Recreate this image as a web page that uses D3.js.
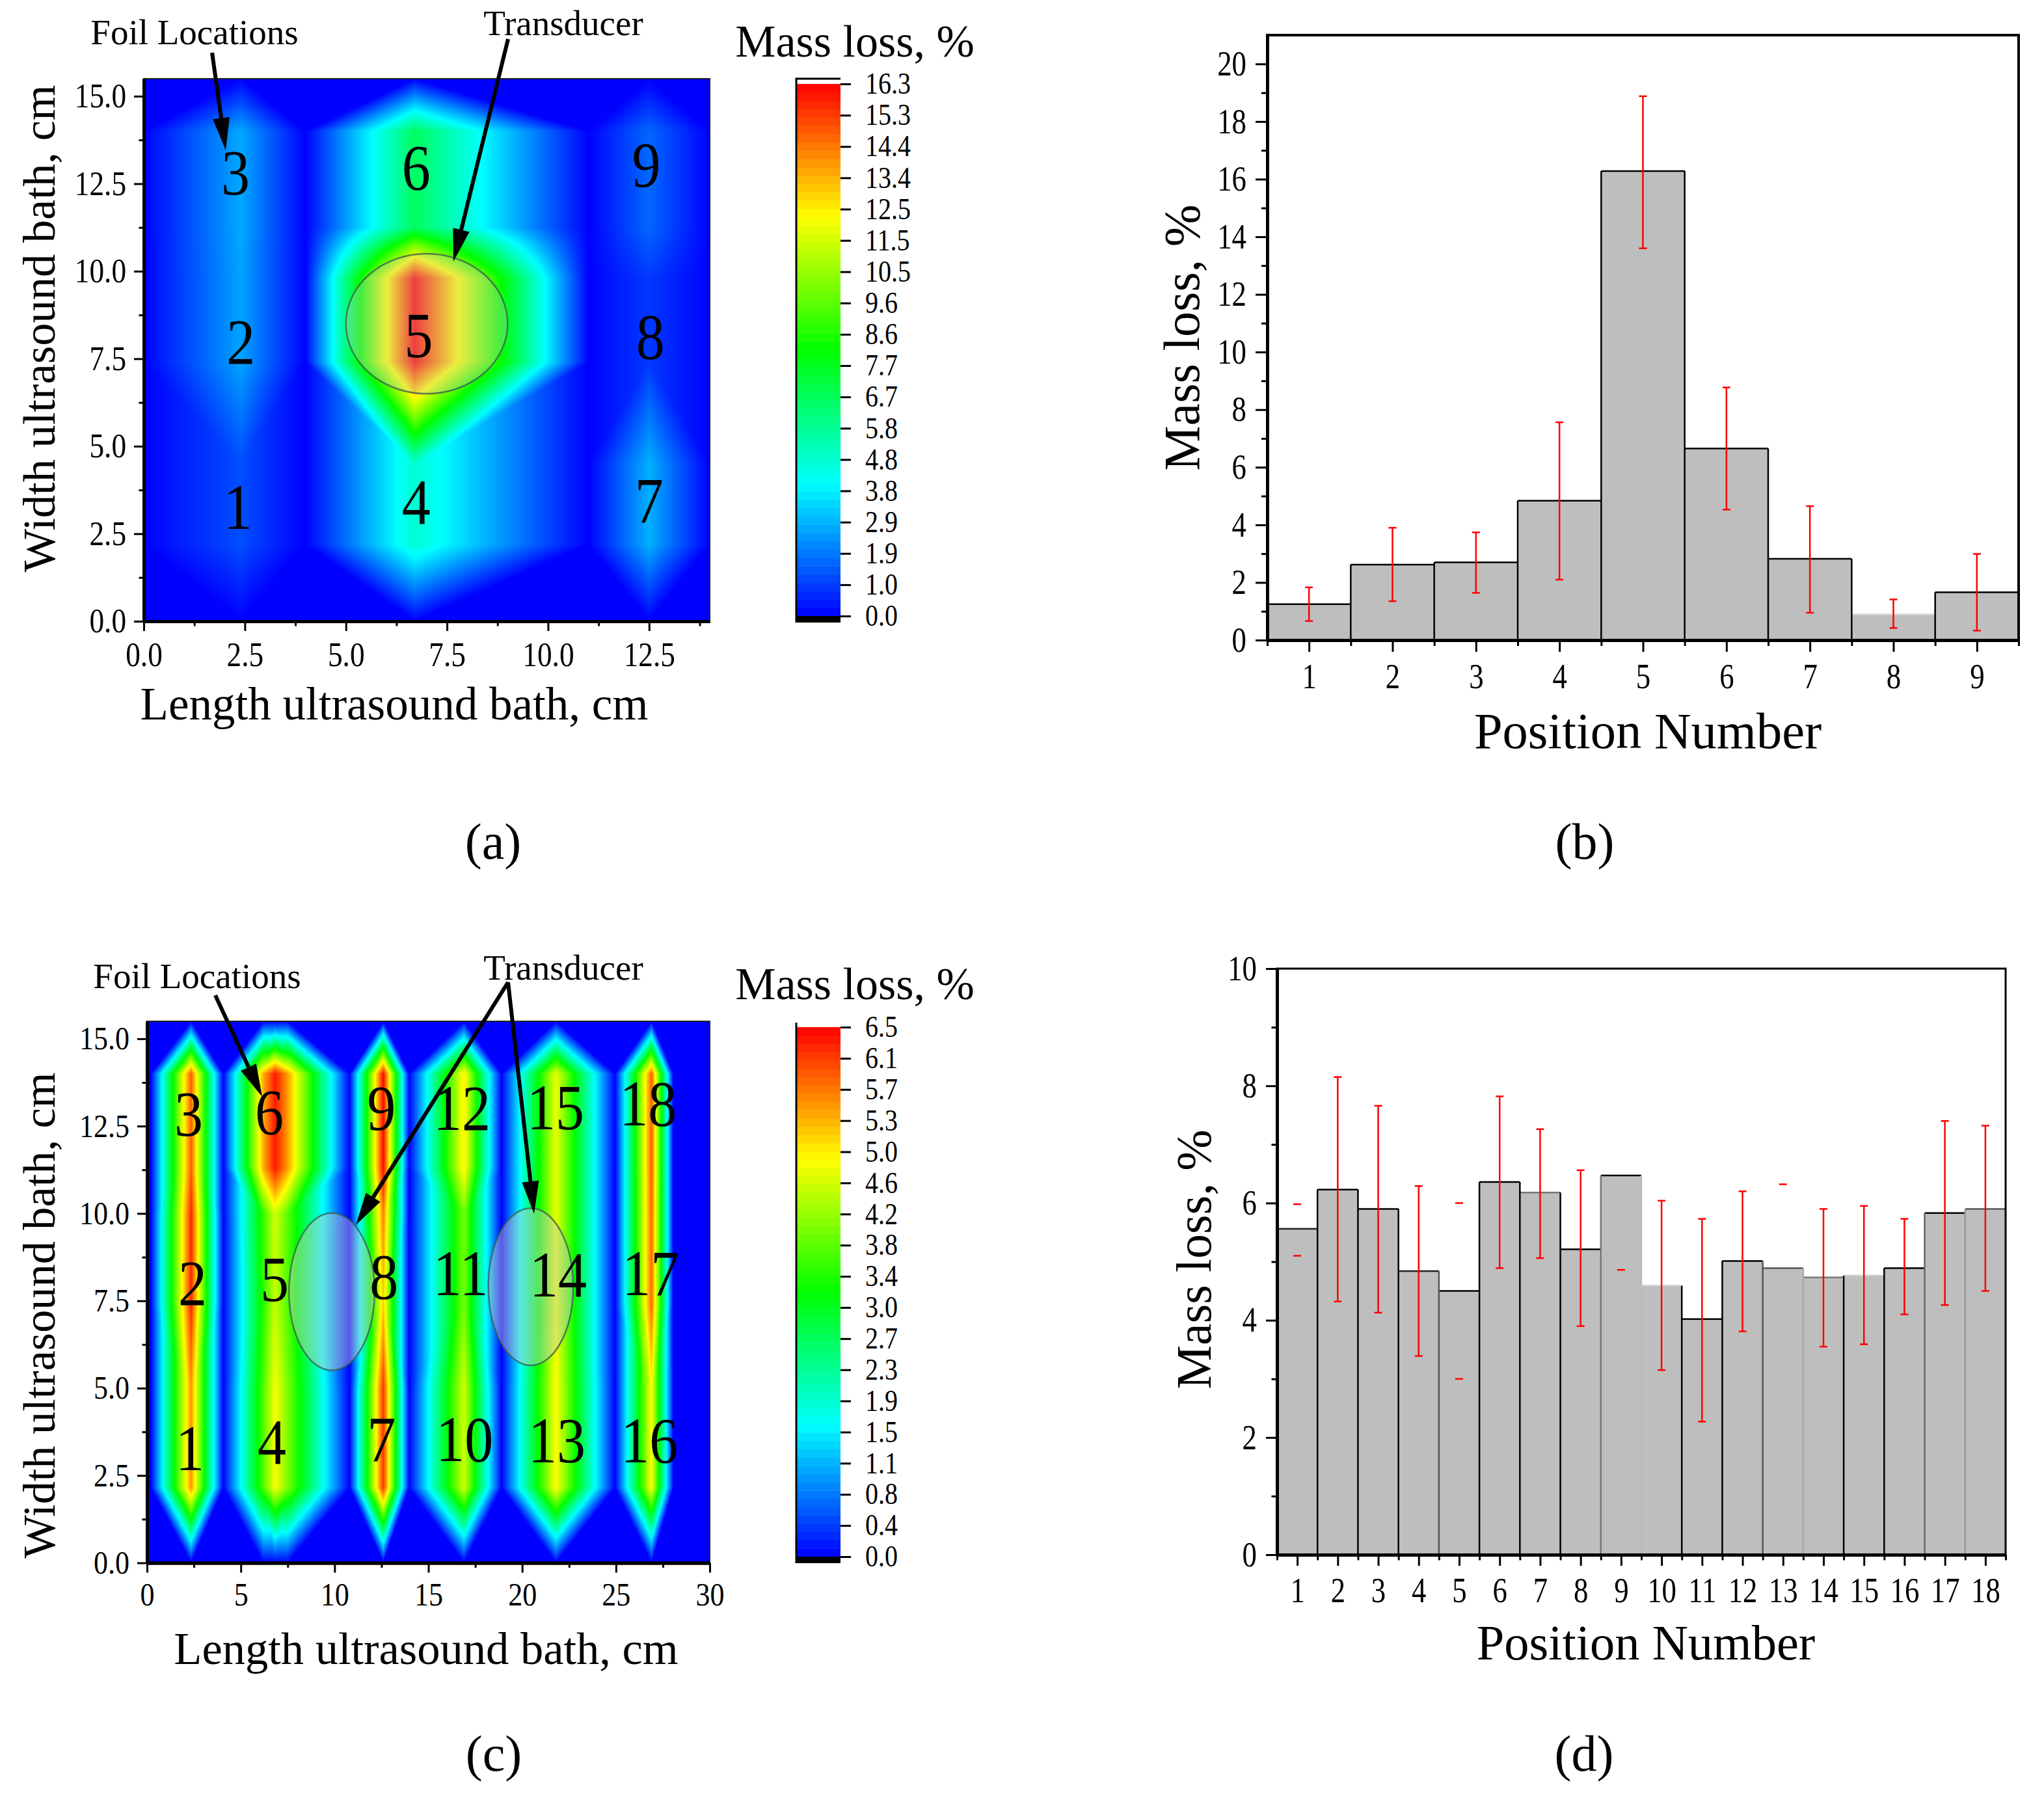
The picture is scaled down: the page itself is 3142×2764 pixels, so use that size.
<!DOCTYPE html>
<html>
<head>
<meta charset="utf-8">
<style>
  html, body { margin: 0; padding: 0; background: #fff; }
  svg { display: block; }
  text { font-family: "Liberation Serif", serif; fill: #000; }
</style>
<script src="https://cdn.jsdelivr.net/npm/d3@7"></script>
</head>
<body>
<svg id="fig" width="3142" height="2764"></svg>
<script>
// ---- panel (a), 9 foils: mass loss on a grid of the bath, cm
const aGridX = [0, 2.4, 4, 6.7, 11, 12.5, 14];
const aGridY = [0, 2.2, 4.5, 7.4, 9.8, 11.25, 14, 15.5];
const aCol1 = [0, 1.25, 1.25, 2.62, 2.62, 2.7, 2.7, 0];
const aCol2 = [0, 4.84, 4.84, 16.3, 16.3, 6.65, 6.65, 0];
const aCol3 = [0, 2.82, 2.82, 0.9, 0.9, 1.66, 1.66, 0];
const aColZero = [0, 0, 0, 0, 0, 0, 0, 0];
const aGridColumns = [aColZero, aCol1, aColZero, aCol2, aColZero, aCol3, aColZero];
const aFoilLabels = ['1', '2', '3', '4', '5', '6', '7', '8', '9'];
const aFoilX = [2.33, 2.4, 2.27, 6.74, 6.8, 6.74, 12.5, 12.53, 12.43];
const aFoilY = [3.25, 7.97, 12.8, 3.4, 8.16, 12.96, 3.44, 8.12, 13.03];
const aLegendTicks = ['0.0', '1.0', '1.9', '2.9', '3.8', '4.8', '5.8', '6.7', '7.7', '8.6', '9.6', '10.5', '11.5', '12.5', '13.4', '14.4', '15.3', '16.3'];

// ---- panel (b)
const bPositions = [1, 2, 3, 4, 5, 6, 7, 8, 9];
const bMassLoss = [1.25, 2.62, 2.7, 4.84, 16.28, 6.65, 2.82, 0.9, 1.66];
const bErrHigh = [1.83, 3.9, 3.74, 7.56, 18.88, 8.77, 4.65, 1.41, 2.99];
const bErrLow = [0.66, 1.35, 1.64, 2.1, 13.6, 4.53, 0.95, 0.42, 0.33];
const bTopEdges = ['#000', '#000', '#000', '#000', '#000', '#000', '#000', '#ddd', '#000'];
const bLeftEdges = ['#000', '#000', '#000', '#000', '#000', '#000', '#000', '#000', '#000'];

// ---- panel (c), 18 foils
const cGridX = [0, 0.2, 2.35, 4.07, 6.2, 6.83, 7.5, 10.8, 12.6, 13.97, 16.9, 18.9, 21.8, 24.95, 26.9, 28.06, 30];
const cGridY = [0, 2.15, 5, 7.4, 10, 11.3, 14, 15.5];
const cColZero = [0, 0, 0, 0, 0, 0, 0, 0];
const cCol1 = [0, 5.55, 5.55, 6.25, 6.25, 5.9, 5.9, 0];
const cCol2a = [0, 3.74, 3.74, 3.5, 3.6, 5.4, 5.4, 0];
const cCol2 = [0, 4.85, 4.85, 4.5, 4.6, 6.35, 6.35, 0];
const cCol2b = [0, 4.03, 4.03, 3.75, 3.8, 5.5, 5.5, 0];
const cCol3 = [0, 6.18, 6.18, 5.2, 5.7, 6.45, 6.45, 0];
const cCol4 = [0, 4.6, 4.6, 4.0, 4.0, 5.0, 5.0, 0];
const cCol5 = [0, 4.9, 4.9, 4.75, 4.75, 4.75, 4.75, 0];
const cCol6 = [0, 4.9, 4.9, 5.85, 5.85, 5.9, 5.9, 0];
const cGridColumns = [cColZero, cColZero, cCol1, cColZero, cCol2a, cCol2, cCol2b, cColZero, cCol3, cColZero, cCol4, cColZero, cCol5, cColZero, cCol6, cColZero, cColZero];
const cFoilLabels = ['1', '2', '3', '4', '5', '6', '7', '8', '9', '10', '11', '12', '13', '14', '15', '16', '17', '18'];
const cFoilX = [2.29, 2.43, 2.22, 6.66, 6.8, 6.52, 12.49, 12.63, 12.49, 16.93, 16.72, 16.79, 21.85, 21.92, 21.78, 26.78, 26.85, 26.71];
const cFoilY = [3.26, 8.0, 12.83, 3.45, 8.1, 12.9, 3.53, 8.19, 13.0, 3.53, 8.27, 13.0, 3.49, 8.23, 13.03, 3.49, 8.27, 13.13];
const cLegendTicks = ['0.0', '0.4', '0.8', '1.1', '1.5', '1.9', '2.3', '2.7', '3.0', '3.4', '3.8', '4.2', '4.6', '5.0', '5.3', '5.7', '6.1', '6.5'];

// ---- panel (d)
const dPositions = d3.range(1, 19);
const dMassLoss = [5.56, 6.23, 5.9, 4.84, 4.5, 6.36, 6.18, 5.21, 6.47, 4.59, 4.02, 5.01, 4.89, 4.73, 4.76, 4.89, 5.83, 5.9];
const dErrHigh = [5.98, 8.15, 7.66, 6.29, 6.0, 7.82, 7.26, 6.56, null, 6.04, 5.73, 6.2, 6.32, 5.9, 5.95, 5.73, 7.4, 7.32];
const dErrLow = [5.1, 4.32, 4.13, 3.39, 3.0, 4.89, 5.06, 3.9, 4.86, 3.15, 2.27, 3.81, null, 3.55, 3.59, 4.1, 4.26, 4.5];
// in the picture the stems of these positions did not survive, only the caps
const dCapsOnly = [1, 5, 9, 13];
const dTopEdges = ['#222', '#000', '#000', '#222', '#000', '#000', '#777', '#000', '#000', '#ccc', '#000', '#000', '#555', '#777', '#ccc', '#000', '#000', '#555'];
const dLeftEdges = ['#000', '#000', '#000', '#000', '#555', '#000', '#000', '#000', '#777', '#bbb', '#000', '#000', '#555', '#aaa', '#000', '#000', '#666', '#999'];

const rainbow = ['#0000ff', '#00ffff', '#00ff00', '#ffff00', '#ff0000'];

const svg = d3.select('#fig');
svg.append('rect').attr('width', 3142).attr('height', 2764).attr('fill', '#fff');

function rainbowScale(maxValue) {
    return d3.scaleLinear()
        .domain(d3.range(5).map(i => maxValue * i / 4))
        .range(rainbow)
        .clamp(true);
}

// the reference type is tall and narrow, squeeze the glyphs sideways
function condense(sel, fontSize, k) {
    sel.style('font-size', fontSize + 'px')
        .style('font-family', '"Liberation Serif", serif')
        .each(function () {
            const len = this.getComputedTextLength();
            d3.select(this).attr('textLength', len * k).attr('lengthAdjust', 'spacingAndGlyphs');
        });
}

// piecewise linear surface, each grid cell is split along its flatter diagonal.
// rows listed in smoothRows are blended bilinear, that fits their contours better
function surfaceAt(gridX, gridY, columns, smoothRows, vx, vy) {
    const i = Math.min(Math.max(d3.bisectRight(gridX, vx) - 1, 0), gridX.length - 2);
    const j = Math.min(Math.max(d3.bisectRight(gridY, vy) - 1, 0), gridY.length - 2);
    const u = (vx - gridX[i]) / (gridX[i + 1] - gridX[i]);
    const w = (vy - gridY[j]) / (gridY[j + 1] - gridY[j]);
    const v00 = columns[i][j], v10 = columns[i + 1][j], v01 = columns[i][j + 1], v11 = columns[i + 1][j + 1];
    if (smoothRows.includes(j)) {
        return (1 - w) * ((1 - u) * v00 + u * v10) + w * ((1 - u) * v01 + u * v11);
    }
    if (Math.abs(v00 - v11) <= Math.abs(v10 - v01)) {
        if (u >= w) return v00 + u * (v10 - v00) + w * (v11 - v10);
        return v00 + w * (v01 - v00) + u * (v11 - v01);
    }
    if (u + w <= 1) return v00 + u * (v10 - v00) + w * (v01 - v00);
    return v11 + (1 - u) * (v01 - v11) + (1 - w) * (v10 - v11);
}

function drawSurface(g, xScale, yScale, o, color) {
    const [x0, x1] = xScale.range();
    const [y1, y0] = yScale.range();
    const w = Math.round(x1 - x0), h = Math.round(y1 - y0);
    const canvas = document.createElement('canvas');
    canvas.width = w;
    canvas.height = h;
    const ctx = canvas.getContext('2d');
    const img = ctx.createImageData(w, h);
    for (let py = 0; py < h; py++) {
        const vy = yScale.invert(y0 + py + 0.5);
        for (let px = 0; px < w; px++) {
            const vx = xScale.invert(x0 + px + 0.5);
            const c = d3.rgb(color(surfaceAt(o.gridX, o.gridY, o.columns, o.smoothRows, vx, vy)));
            const k = (py * w + px) * 4;
            img.data[k] = c.r;
            img.data[k + 1] = c.g;
            img.data[k + 2] = c.b;
            img.data[k + 3] = 255;
        }
    }
    ctx.putImageData(img, 0, 0);
    g.append('image')
        .attr('x', x0).attr('y', y0)
        .attr('width', w).attr('height', h)
        .attr('href', canvas.toDataURL());
}

function styleAxis(sel, width) {
    sel.selectAll('path.domain').attr('stroke', '#000').attr('stroke-width', width);
    sel.selectAll('.tick line').attr('stroke', '#000').attr('stroke-width', 3);
}

function drawAxes(g, x, y, o) {
    const bottom = y.range()[0], left = x.range()[0];
    const xAxis = g.append('g').attr('transform', `translate(0,${bottom})`)
        .call(d3.axisBottom(x).tickValues(o.xMajor).tickSize(o.tick).tickSizeOuter(0).tickFormat(o.xFormat));
    g.append('g').attr('transform', `translate(0,${bottom})`)
        .call(d3.axisBottom(x).tickValues(o.xMinor).tickSize(o.tick / 2).tickSizeOuter(0).tickFormat(''))
        .call(styleAxis, 5);
    styleAxis(xAxis, 5);
    xAxis.selectAll('text')
        .attr('y', o.xTickBase - bottom).attr('dy', 0)
        .call(condense, o.tickFont, o.tickSqueeze);

    const yAxis = g.append('g').attr('transform', `translate(${left},0)`)
        .call(d3.axisLeft(y).tickValues(o.yMajor).tickSize(o.tick).tickSizeOuter(0).tickFormat(o.yFormat));
    g.append('g').attr('transform', `translate(${left},0)`)
        .call(d3.axisLeft(y).tickValues(o.yMinor).tickSize(o.tick / 2).tickSizeOuter(0).tickFormat(''))
        .call(styleAxis, 5);
    styleAxis(yAxis, 5);
    yAxis.selectAll('text')
        .attr('x', -(o.tick + o.yTickGap))
        .call(condense, o.tickFont, o.tickSqueeze);

    g.append('text')
        .attr('x', o.xTitle[0]).attr('y', o.xTitle[1])
        .attr('text-anchor', 'middle')
        .style('font-size', o.titleFont + 'px')
        .text(o.xLabel);
    g.append('text')
        .attr('transform', `translate(${o.yTitle[0]},${o.yTitle[1]}) rotate(-90)`)
        .attr('text-anchor', 'middle')
        .style('font-size', o.yTitleFont + 'px')
        .text(o.yLabel);
}

function drawArrow(g, tail, tip) {
    const angle = Math.atan2(tip[1] - tail[1], tip[0] - tail[0]);
    const headLen = 50, headHalf = 13;
    const nx = -Math.sin(angle), ny = Math.cos(angle);
    const bx = tip[0] - Math.cos(angle) * headLen, by = tip[1] - Math.sin(angle) * headLen;
    g.append('line')
        .attr('x1', tail[0]).attr('y1', tail[1]).attr('x2', bx).attr('y2', by)
        .attr('stroke', '#000').attr('stroke-width', 6);
    g.append('polygon')
        .attr('points', [tip, [bx + nx * headHalf, by + ny * headHalf], [bx - nx * headHalf, by - ny * headHalf]].join(' '))
        .attr('fill', '#000');
}

function drawLegend(g, ticks, maxValue, o) {
    const color = rainbowScale(maxValue);
    const legendLeft = 1224, legendRight = 1292;
    const yTop = o.legendTickTop, yBottom = o.legendTickBottom;
    const legendY = d3.scalePoint().domain(ticks).range([yBottom, yTop]);
    const shades = d3.range(64);
    const shadeH = (yBottom - yTop) / shades.length;
    g.selectAll('rect.shade').data(shades).join('rect')
        .attr('class', 'shade')
        .attr('x', legendLeft).attr('width', legendRight - legendLeft)
        .attr('y', d => yBottom - (d + 1) * shadeH)
        .attr('height', shadeH + 0.5)
        .attr('fill', d => color((d + 0.5) / shades.length * maxValue));
    g.append('rect')
        .attr('x', legendLeft).attr('width', legendRight - legendLeft)
        .attr('y', yBottom).attr('height', 10).attr('fill', '#000');
    const edge = o.legendTopLine
        ? `M${legendRight},${o.legendTop}H${legendLeft}V${yBottom + 10}`
        : `M${legendLeft},${o.legendTop}V${yBottom + 10}`;
    g.append('path')
        .attr('d', edge)
        .attr('fill', 'none').attr('stroke', '#000').attr('stroke-width', 3);
    const axis = g.append('g').attr('transform', `translate(${legendRight},0)`)
        .call(d3.axisRight(legendY).tickSize(16).tickSizeOuter(0).tickPadding(22));
    axis.select('path.domain').remove();
    axis.selectAll('.tick line').attr('stroke', '#000').attr('stroke-width', 3);
    axis.selectAll('text').call(condense, 46, 0.87);
}

function heatPanel(o) {
    const g = svg.append('g');
    const x = d3.scaleLinear().domain(o.xDomain).range([o.left, o.right]);
    const y = d3.scaleLinear().domain([0, 15.5]).range([o.bottom, o.top]);
    drawSurface(g, x, y, o, rainbowScale(o.maxValue));
    g.append('rect')
        .attr('x', o.left).attr('y', o.top)
        .attr('width', o.right - o.left).attr('height', o.bottom - o.top)
        .attr('fill', 'none').attr('stroke', '#222').attr('stroke-width', 2);

    g.selectAll('ellipse').data(o.ellipses).join('ellipse')
        .attr('cx', d => x(d.cx)).attr('cy', d => y(d.cy))
        .attr('rx', d => x(d.cx + d.rx) - x(d.cx)).attr('ry', d => y(d.cy) - y(d.cy + d.ry))
        .attr('fill', '#c8c8c8').attr('fill-opacity', o.ellipseOpacity)
        .attr('stroke', '#3f5f4f').attr('stroke-opacity', 0.8).attr('stroke-width', 2.5);

    g.selectAll('text.foil').data(o.foilLabels).join('text')
        .attr('class', 'foil')
        .attr('x', (d, i) => x(o.foilX[i])).attr('y', (d, i) => y(o.foilY[i]))
        .attr('dy', '0.33em')
        .attr('text-anchor', 'middle')
        .text(d => d)
        .call(condense, 100, 0.88);

    drawAxes(g, x, y, o);
    o.arrows.forEach(a => drawArrow(g, a[0], a[1]));
    o.notes.forEach(n => {
        g.append('text').attr('x', n.x).attr('y', n.y)
            .attr('text-anchor', 'middle').style('font-size', '55px').text(n.text);
    });
    g.append('text').attr('x', 1314).attr('y', o.legendTitleY)
        .attr('text-anchor', 'middle').style('font-size', '70px').text('Mass loss, %');
    drawLegend(g, o.legendTicks, o.maxValue, o);
}

function barPanel(o) {
    const g = svg.append('g');
    const n = o.positions.length;
    const x = d3.scaleLinear().domain([0.5, n + 0.5]).range([o.left, o.right]);
    const y = d3.scaleLinear().domain(o.yDomain).range([o.bottom, o.top]);

    g.selectAll('rect.bar').data(o.values).join('rect')
        .attr('class', 'bar')
        .attr('x', (d, i) => x(o.positions[i] - 0.5))
        .attr('width', (d, i) => x(o.positions[i] + 0.5) - x(o.positions[i] - 0.5))
        .attr('y', d => y(d))
        .attr('height', d => y(0) - y(d))
        .attr('fill', '#bebebe');

    // edges go separately, some of them came out grey in the picture
    g.selectAll('line.top-edge').data(o.values).join('line')
        .attr('class', 'top-edge')
        .attr('x1', (d, i) => x(o.positions[i] - 0.5))
        .attr('x2', (d, i) => x(o.positions[i] + 0.5))
        .attr('y1', d => y(d)).attr('y2', d => y(d))
        .attr('stroke', (d, i) => o.topEdges[i]).attr('stroke-width', 2.5);
    g.selectAll('line.left-edge').data(o.values).join('line')
        .attr('class', 'left-edge')
        .attr('x1', (d, i) => x(o.positions[i] - 0.5))
        .attr('x2', (d, i) => x(o.positions[i] - 0.5))
        .attr('y1', y(0))
        .attr('y2', (d, i) => y(Math.max(d, i > 0 ? o.values[i - 1] : 0)))
        .attr('stroke', (d, i) => o.leftEdges[i]).attr('stroke-width', 2.5);

    g.selectAll('line.stem').data(o.positions.filter(p => !o.capsOnly.includes(p))).join('line')
        .attr('class', 'stem')
        .attr('x1', d => x(d)).attr('x2', d => x(d))
        .attr('y1', d => y(o.errHigh[d - 1])).attr('y2', d => y(o.errLow[d - 1]))
        .attr('stroke', '#ff0000').attr('stroke-width', 2.5);
    const caps = o.positions
        .flatMap(p => [[p, o.errHigh[p - 1]], [p, o.errLow[p - 1]]])
        .filter(d => d[1] !== null);
    g.selectAll('line.cap').data(caps).join('line')
        .attr('class', 'cap')
        .attr('x1', d => x(d[0]) - 6).attr('x2', d => x(d[0]) + 6)
        .attr('y1', d => y(d[1])).attr('y2', d => y(d[1]))
        .attr('stroke', '#ff0000').attr('stroke-width', 2.5);

    g.append('rect')
        .attr('x', o.left).attr('y', o.top)
        .attr('width', o.right - o.left).attr('height', o.bottom - o.top)
        .attr('fill', 'none').attr('stroke', '#000').attr('stroke-width', o.frame);

    drawAxes(g, x, y, o);
}

heatPanel({
    left: 221, right: 1091, top: 121, bottom: 955,
    xDomain: [0, 14],
    gridX: aGridX, gridY: aGridY, columns: aGridColumns, smoothRows: [4], maxValue: 16.3,
    ellipses: [{ cx: 7.0, cy: 8.5, rx: 2.0, ry: 2.0 }], ellipseOpacity: 0.32,
    foilLabels: aFoilLabels, foilX: aFoilX, foilY: aFoilY,
    xMajor: d3.range(0, 12.6, 2.5), xMinor: d3.range(1.25, 14, 2.5), xFormat: d3.format('.1f'),
    yMajor: d3.range(0, 15.1, 2.5), yMinor: d3.range(1.25, 15.5, 2.5), yFormat: d3.format('.1f'),
    tick: 15, tickFont: 52, tickSqueeze: 0.87, yTickGap: 12, xTickBase: 1024,
    titleFont: 71, yTitleFont: 70.5,
    xLabel: 'Length ultrasound bath, cm', yLabel: 'Width ultrasound bath, cm',
    xTitle: [606, 1106], yTitle: [84, 505],
    arrows: [[[326, 81], [347, 231]], [[781, 60], [697, 402]]],
    notes: [{ text: 'Foil Locations', x: 299, y: 68 }, { text: 'Transducer', x: 866, y: 54 }],
    legendTitleY: 87, legendTop: 121, legendTopLine: true, legendTickTop: 129, legendTickBottom: 947,
    legendTicks: aLegendTicks
});

barPanel({
    left: 1948, right: 3103, top: 54, bottom: 984,
    positions: bPositions, values: bMassLoss, errHigh: bErrHigh, errLow: bErrLow, capsOnly: [],
    topEdges: bTopEdges, leftEdges: bLeftEdges,
    yDomain: [0, 21], frame: 4,
    xMajor: bPositions, xMinor: d3.range(0.5, 9.6, 1), xFormat: d3.format('d'),
    yMajor: d3.range(0, 21, 2), yMinor: d3.range(1, 21, 2), yFormat: d3.format('d'),
    tick: 18, tickFont: 54, tickSqueeze: 0.83, yTickGap: 14, xTickBase: 1058,
    titleFont: 78.5, yTitleFont: 78,
    xLabel: 'Position Number', yLabel: 'Mass loss, %',
    xTitle: [2533, 1150], yTitle: [1843, 519]
});

heatPanel({
    left: 226, right: 1091, top: 1570, bottom: 2402.5,
    xDomain: [0, 30],
    gridX: cGridX, gridY: cGridY, columns: cGridColumns, smoothRows: [], maxValue: 6.5,
    ellipses: [{ cx: 9.85, cy: 7.76, rx: 2.28, ry: 2.25 }, { cx: 20.46, cy: 7.9, rx: 2.26, ry: 2.25 }], ellipseOpacity: 0.45,
    foilLabels: cFoilLabels, foilX: cFoilX, foilY: cFoilY,
    xMajor: d3.range(0, 31, 5), xMinor: d3.range(2.5, 30, 5), xFormat: d3.format('d'),
    yMajor: d3.range(0, 15.1, 2.5), yMinor: d3.range(1.25, 15.5, 2.5), yFormat: d3.format('.1f'),
    tick: 15, tickFont: 50, tickSqueeze: 0.88, yTickGap: 12, xTickBase: 2468,
    titleFont: 70.5, yTitleFont: 70.3,
    xLabel: 'Length ultrasound bath, cm', yLabel: 'Width ultrasound bath, cm',
    xTitle: [655, 2558], yTitle: [84, 2022],
    arrows: [[[331, 1530], [403, 1686]], [[781, 1510], [547, 1883]], [[781, 1510], [821, 1866]]],
    notes: [{ text: 'Foil Locations', x: 303, y: 1519 }, { text: 'Transducer', x: 866, y: 1506 }],
    legendTitleY: 1536, legendTop: 1572, legendTopLine: false, legendTickTop: 1579, legendTickBottom: 2393,
    legendTicks: cLegendTicks
});

barPanel({
    left: 1963, right: 3083, top: 1489, bottom: 2390,
    positions: dPositions, values: dMassLoss, errHigh: dErrHigh, errLow: dErrLow, capsOnly: dCapsOnly,
    topEdges: dTopEdges, leftEdges: dLeftEdges,
    yDomain: [0, 10], frame: 3,
    xMajor: dPositions, xMinor: d3.range(0.5, 18.6, 1), xFormat: d3.format('d'),
    yMajor: d3.range(0, 11, 2), yMinor: d3.range(1, 10, 2), yFormat: d3.format('d'),
    tick: 17, tickFont: 54, tickSqueeze: 0.83, yTickGap: 14, xTickBase: 2463,
    titleFont: 76.5, yTitleFont: 76,
    xLabel: 'Position Number', yLabel: 'Mass loss, %',
    xTitle: [2530, 2551], yTitle: [1861, 1936]
});

// panel letters
const panelLetters = ['(a)', '(b)', '(c)', '(d)'];
const panelLetterX = [758, 2436, 759, 2435];
const panelLetterY = [1320, 1320, 2722, 2722];
svg.selectAll('text.letter').data(panelLetters).join('text')
    .attr('class', 'letter')
    .attr('x', (d, i) => panelLetterX[i]).attr('y', (d, i) => panelLetterY[i])
    .attr('text-anchor', 'middle')
    .style('font-size', '78px')
    .text(d => d);
</script>
</body>
</html>
